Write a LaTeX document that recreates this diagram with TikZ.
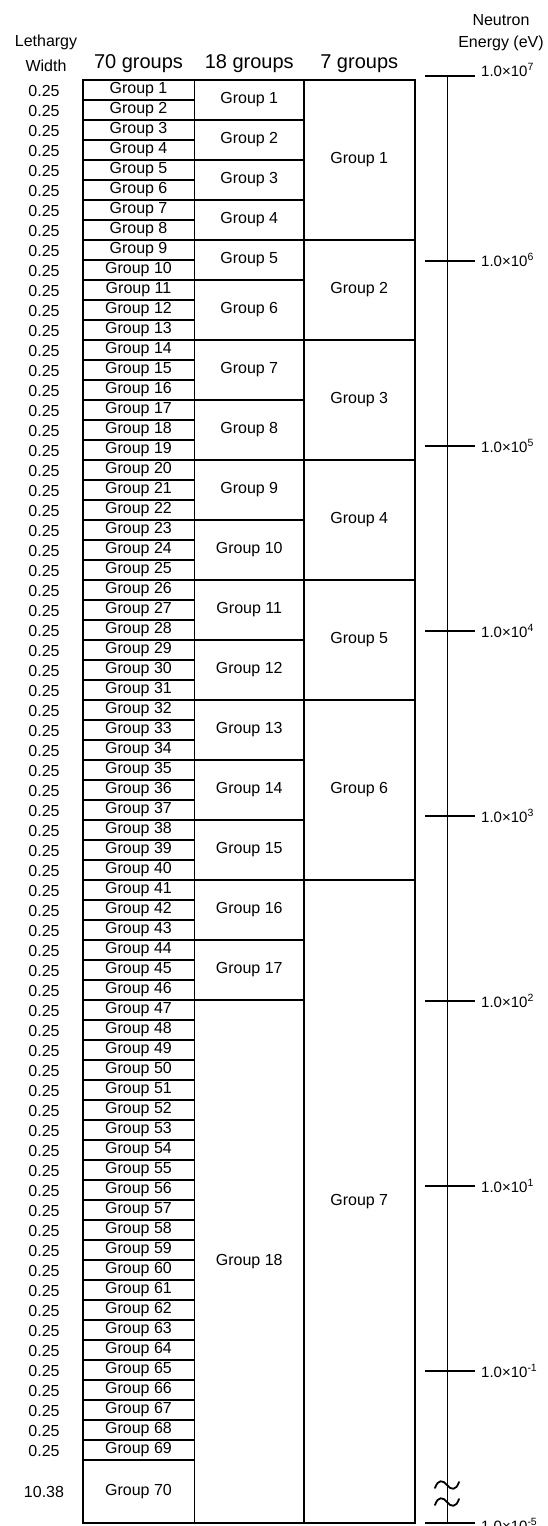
\documentclass[tikz,border=0pt]{standalone}
\usepackage{fontspec}
\setmainfont{Liberation Sans}
\begin{document}
\begin{tikzpicture}[x=1pt,y=-1pt,
  fine/.style={draw, line width=1.7pt, inner sep=0pt, outer sep=0pt,
    font=\fontsize{16}{16}\selectfont},
  mid/.style={draw, line width=1.5pt, inner sep=0pt, outer sep=0pt,
    font=\fontsize{16}{16}\selectfont},
  frame/.style={draw, line width=2pt},
  lw/.style={inner sep=0pt, font=\fontsize{16}{16}\selectfont},
  head/.style={inner sep=0pt, font=\fontsize{16}{16}\selectfont},
  colhead/.style={inner sep=0pt, font=\fontsize{20}{20}\selectfont},
  axis/.style={line width=1pt},
  tickline/.style={line width=1.2pt},
  elab/.style={inner sep=0pt, anchor=west, font=\fontsize{15}{15}\selectfont},
  brk/.style={line width=1.8pt, line cap=round}]
\useasboundingbox[fill=white] (0,0) rectangle (548,1526);

% column headings
\node[head] (hl1) at (46,42.5) {Lethargy};
\node[head] (hl2) at (46,65.5) {Width};
\node[colhead] (h70) at (138.5,64) {70 groups};
\node[colhead] (h18) at (249.25,64) {18 groups};
\node[colhead] (h7) at (359.25,64) {7 groups};
\node[head] (hn1) at (501,20) {Neutron};
\node[head] (hn2) at (501,43) {Energy (eV)};

% fine structure: 70 groups and their lethargy widths
\foreach \i in {1,...,69} {
  \pgfmathsetmacro\yc{80+20*\i-10}
  \node[fine, minimum width=112pt, minimum height=20pt] (a\i) at (138.5,\yc) {Group \i};
  \node[lw] (w\i) at (44,\yc+0.5) {0.25};
}
\node[fine, minimum width=112pt, minimum height=63pt] (a70) at (138.5,1491.5) {Group 70};
\node[lw] (w70) at (44,1491.5) {10.38};

% 18-group collapse
\foreach \n/\s/\e in {1/1/2,2/3/4,3/5/6,4/7/8,5/9/10,6/11/13,7/14/16,8/17/19,9/20/22,
    10/23/25,11/26/28,12/29/31,13/32/34,14/35/37,15/38/40,16/41/43,17/44/46,18/47/70} {
  \pgfmathsetmacro\yt{80+20*(\s-1)}
  \pgfmathsetmacro\yb{ifthenelse(\e==70,1523,80+20*\e)}
  \pgfmathsetmacro\h{\yb-\yt}
  \pgfmathsetmacro\yc{(\yt+\yb)/2}
  \node[mid, minimum width=109.5pt, minimum height=\h pt] (b\n) at (249.25,\yc) {Group \n};
}

% 7-group collapse
\foreach \n/\s/\e in {1/1/8,2/9/13,3/14/19,4/20/25,5/26/31,6/32/40,7/41/70} {
  \pgfmathsetmacro\yt{80+20*(\s-1)}
  \pgfmathsetmacro\yb{ifthenelse(\e==70,1523,80+20*\e)}
  \pgfmathsetmacro\h{\yb-\yt}
  \pgfmathsetmacro\yc{(\yt+\yb)/2}
  \node[mid, minimum width=110.5pt, minimum height=\h pt] (c\n) at (359.25,\yc) {Group \n};
}

% outer frame
\draw[frame] (a1.north west) rectangle (c7.south east);

% energy axis
\coordinate (ax0) at (447,76);
\coordinate (ax1) at (447,1523);
\draw[axis] (ax0) -- (ax1);
\foreach \nm/\y/\ex/\dy in {7/76/7/-6, 6/261/6/-1, 5/446/5/0, 4/631/4/0, 3/816/3/0,
    2/1001/2/0, 1/1186/1/0, m1/1371/-1/0, m5/1523/-5/2} {
  \coordinate (t\nm) at (447,\y);
  \draw[tickline] ([xshift=-22pt]t\nm) -- ([xshift=28pt]t\nm) coordinate (te\nm);
  \node[elab] (e\nm) at ([xshift=6pt,yshift=-\dy pt]te\nm) {1.0×10\textsuperscript{\ex}};
}

% axis break
\foreach \yy in {1485,1502} {
  \draw[brk] (435,{\yy+3}) .. controls (438,{\yy-6}) and (443,{\yy-5}) .. (447,\yy)
    .. controls (451,{\yy+5}) and (456,{\yy+6}) .. (459,{\yy-3});
}
\end{tikzpicture}
\end{document}
